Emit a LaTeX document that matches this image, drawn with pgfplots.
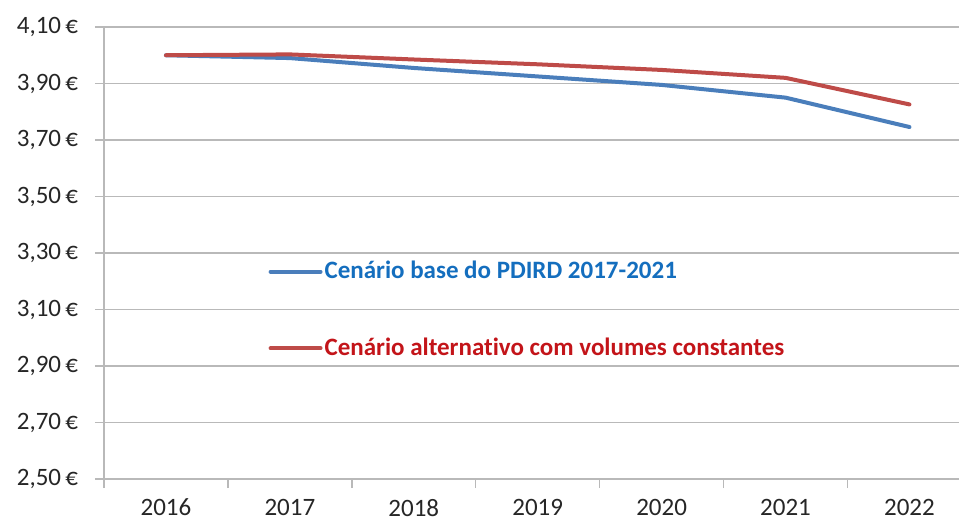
\documentclass[border=0pt]{standalone}
\usepackage{pgfplots}
\pgfplotsset{compat=1.18}
\usepackage{fontspec}
\setmainfont{Carlito}[Ligatures=NoCommon]

\definecolor{serieblue}{RGB}{74,126,187}
\definecolor{seriered}{RGB}{190,75,72}
\definecolor{txtblue}{RGB}{20,110,190}
\definecolor{txtred}{RGB}{195,20,25}
\definecolor{gridgray}{RGB}{185,185,185}

\begin{document}
\begin{tikzpicture}
\begin{axis}[
scale only axis,
width=427.5pt,
height=226pt,
xmin=-0.5, xmax=6.4,
ymin=2.5, ymax=4.1,
axis x line*=bottom,
axis y line*=left,
axis line style={gridgray, line width=0.7pt},
xtick={0,1,2,3,4,5,6},
xticklabels={2016,2017,2018,2019,2020,2021,2022},
major x tick style={draw=none},
minor xtick={-0.5,0.5,1.5,2.5,3.5,4.5,5.5},
ytick={2.5,2.7,2.9,3.1,3.3,3.5,3.7,3.9,4.1},
yticklabels={{2,50\,€},{2,70\,€},{2,90\,€},{3,10\,€},{3,30\,€},{3,50\,€},{3,70\,€},{3,90\,€},{4,10\,€}},
ymajorgrids,
major grid style={gridgray, line width=0.7pt},
tick align=outside,
major tick length=4.5pt,
minor tick length=4.5pt,
tick style={gridgray, line width=0.7pt},
tick label style={font=\fontsize{12.5}{14}\selectfont, text=black!85},
xticklabel style={yshift=-2pt},
yticklabel style={xshift=-5pt},
legend style={draw=none, fill=none, at={(0.192,0.374)}, anchor=west,
  inner sep=0pt, row sep=24pt, font=\fontsize{12.5}{14}\selectfont\bfseries,
  nodes={inner xsep=1pt}},
legend cell align=left,
legend image code/.code={\draw[#1] (0pt,0pt) -- (25pt,0pt);},
]
\addplot[serieblue, line width=2pt, line join=round, line cap=round] coordinates {
(0,4.00) (1,3.99) (2,3.955) (3,3.925) (4,3.895) (5,3.85) (6,3.746)};
\addlegendentry{\textcolor{txtblue}{Cenário base do PDIRD 2017-2021}}
\addplot[seriered, line width=2pt, line join=round, line cap=round] coordinates {
(0,4.00) (1,4.003) (2,3.985) (3,3.968) (4,3.948) (5,3.92) (6,3.826)};
\addlegendentry{\textcolor{txtred}{Cenário alternativo com volumes constantes}}
\end{axis}
\pgfresetboundingbox
\path ([xshift=-52pt,yshift=-20.5pt]current axis.south west) rectangle ([yshift=13.5pt]current axis.north east);
\end{tikzpicture}
\end{document}
